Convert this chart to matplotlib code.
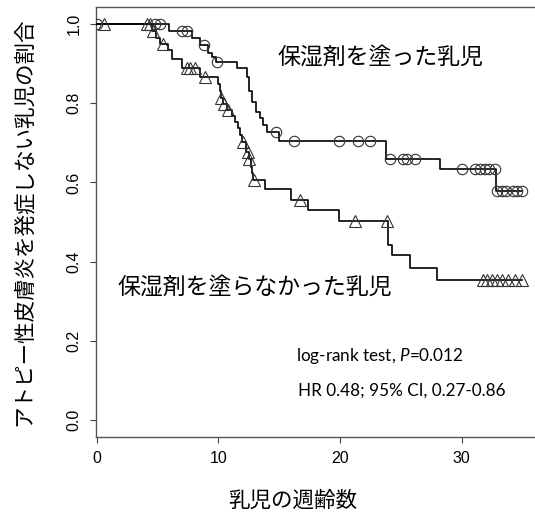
import numpy as np
import matplotlib
matplotlib.use("Agg")
import matplotlib.pyplot as plt

plt.rcParams['font.family'] = ['Liberation Sans', 'DejaVu Sans']
plt.rcParams['mathtext.fontset'] = 'custom'
plt.rcParams['mathtext.it'] = 'Lato:italic'
plt.rcParams['mathtext.rm'] = 'Lato'

# group with moisturizer (circles)
moist_event_t = [5.9, 7.8, 8.5, 9.1, 9.5, 9.8, 11.5, 12.35, 12.55, 12.75, 13.1, 13.4, 13.7, 14.0, 15.0, 23.8, 28.2, 32.85]
moist_event_s = [0.982, 0.965, 0.948, 0.928, 0.916, 0.904, 0.888, 0.867, 0.83, 0.804, 0.779, 0.762, 0.745, 0.727, 0.705, 0.659, 0.634, 0.579]
moist_censor = [0.0, 4.8, 5.2, 7.0, 7.4, 8.8, 9.9, 14.7, 16.25, 19.9, 21.5, 22.5, 24.1, 25.2, 25.5, 26.2,
                30.0, 31.1, 31.5, 31.9, 32.3, 32.75, 32.9, 33.3, 33.7, 34.2, 34.6, 35.0]

# group without moisturizer (triangles)
ctrl_event_t = [4.5, 4.9, 5.2, 5.85, 6.2, 7.0, 8.5, 10.0, 10.1, 10.2, 10.4, 10.7, 11.1, 11.35, 11.6, 11.8, 11.9,
                12.3, 12.5, 12.65, 12.75, 12.85, 13.8, 16.0, 17.4, 19.9, 23.95, 24.25, 25.8, 28.0]
ctrl_event_s = [0.982, 0.965, 0.949, 0.934, 0.911, 0.889, 0.867, 0.848, 0.83, 0.812, 0.797, 0.783, 0.768, 0.753,
                0.737, 0.72, 0.703, 0.678, 0.658, 0.64, 0.623, 0.606, 0.583, 0.556, 0.53, 0.503, 0.442, 0.417, 0.384, 0.354]
ctrl_censor = [0.6, 4.1, 4.4, 4.6, 5.4, 7.4, 7.65, 8.1, 8.9, 10.25, 10.45, 10.75, 12.0, 12.45, 12.55, 12.9, 16.7,
               21.2, 23.9, 31.8, 32.1, 32.5, 32.9, 33.3, 33.8, 34.4, 35.0]

y_ticks = [0.0, 0.2, 0.4, 0.6, 0.8, 1.0]
x_ticks = [0, 10, 20, 30]


def surv_at(t, ev_t, ev_s):
    s = 1.0
    for et, es in zip(ev_t, ev_s):
        if et <= t:
            s = es
    return s


def draw_km(ax, ev_t, ev_s, censor, marker, ms):
    end = max(max(censor), max(ev_t))
    tt = [0.0] + list(ev_t) + [end]
    ss = [1.0] + list(ev_s) + [ev_s[-1]]
    ax.step(tt, ss, where='post', color='black', lw=1.2, zorder=3)
    cy = [surv_at(c, ev_t, ev_s) for c in censor]
    ax.plot(censor, cy, linestyle='none', marker=marker, ms=ms, mfc='none',
            mec='#333333', mew=0.8, zorder=4)


W, H = 535, 515
fig = plt.figure(figsize=(W / 100, H / 100), dpi=100)
ax = fig.add_axes([95.7 / W, 77.7 / H, 444.8 / W, 430 / H])

draw_km(ax, moist_event_t, moist_event_s, moist_censor, 'o', 7.5)
draw_km(ax, ctrl_event_t, ctrl_event_s, ctrl_censor, '^', 8.5)

ax.set_xlim(-0.1, 36.5)
ax.set_ylim(-0.0437, 1.0422)
ax.set_xticks(x_ticks)
ax.set_xticklabels([str(v) for v in x_ticks])
ax.set_yticks(y_ticks)
ax.set_yticklabels(["%.1f" % v for v in y_ticks], rotation=90, va='center')
ax.tick_params(direction='out', length=4, width=0.8, color='#444444', labelsize=11.5, pad=6)
for sp in ax.spines.values():
    sp.set_color('#555555')
    sp.set_linewidth(1.0)

jp = ['Noto Sans CJK JP', 'DejaVu Sans']
fig.text(24 / W, 1 - 222 / H, 'アトピー性皮膚炎を発症しない乳児の割合', family=jp,
         fontsize=15.5, rotation=90, ha='center', va='center')
fig.text(292.5 / W, 1 - 501 / H, '乳児の週齢数', family=jp, fontsize=15.5, ha='center', va='center')
fig.text(380 / W, 1 - 57 / H, '保湿剤を塗った乳児', family=jp, fontsize=16.5, ha='center', va='center')
fig.text(255 / W, 1 - 287 / H, '保湿剤を塗らなかった乳児', family=jp, fontsize=16.5, ha='center', va='center')
fig.text(296 / W, 1 - 356 / H, 'log-rank test, $P$=0.012', family='Lato', fontsize=12.3,
         ha='left', va='center')
fig.text(297.5 / W, 1 - 391 / H, 'HR 0.48; 95% CI, 0.27-0.86', family='Lato', fontsize=12.3,
         ha='left', va='center')

fig.savefig('out.png', dpi=100)
